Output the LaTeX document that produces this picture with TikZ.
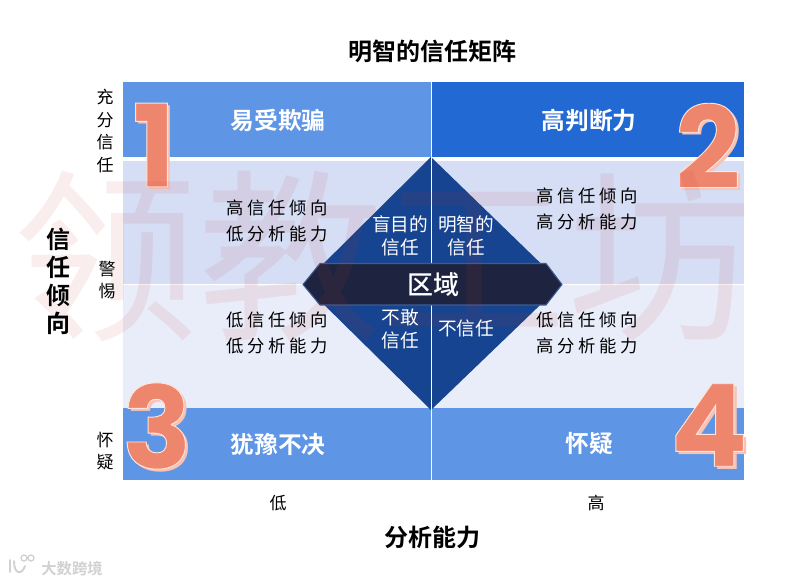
\documentclass[tikz,border=0pt]{standalone}
\usepackage{fontspec}
\setmainfont{Noto Sans CJK SC}
\newfontfamily\cjkb{Noto Sans CJK SC Bold}
\newfontfamily\cjkm{Noto Sans CJK SC Medium}
\newfontfamily\cjksp[LetterSpace=22]{Noto Sans CJK SC}
\newfontfamily\cjkwm{Noto Sans CJK SC}
\newfontfamily\digitfont{Poppins Bold}
\usetikzlibrary{calc}
\definecolor{bandlight}{HTML}{5E95E5}
\definecolor{bandstrong}{HTML}{2369D4}
\definecolor{paleA}{HTML}{D5DEF4}
\definecolor{paleB}{HTML}{E9EDF9}
\definecolor{diam}{HTML}{164490}
\definecolor{darkband}{HTML}{1E2440}
\definecolor{darkedge}{HTML}{3D5C92}
\definecolor{coral}{HTML}{EE866E}
\definecolor{peach}{HTML}{F6C3B6}
\definecolor{wm}{HTML}{C83030}
\newcommand{\outl}[1]{\special{pdf:code q 2 Tr 0.7 w 1 0.9 0.85 RG}#1\special{pdf:code Q}}
\tikzset{
 x=0.75pt,y=-0.75pt,
 band/.style={font=\cjkb\fontsize{17.8pt}{20pt}\selectfont,text=white,inner sep=0pt},
 quad/.style={font=\cjksp\fontsize{13pt}{19pt}\selectfont,align=center,text=black,inner sep=0pt},
 dlab/.style={font=\fontsize{14pt}{17pt}\selectfont,align=center,text=white,inner sep=0pt},
 axis/.style={font=\cjkb\fontsize{18pt}{21pt}\selectfont,text=black,align=center,inner sep=0pt},
 tick/.style={font=\fontsize{12.75pt}{17pt}\selectfont,text=black,align=center,inner sep=0pt},
 bigdig/.style={font=\digitfont\fontsize{86pt}{86pt}\selectfont,inner sep=0pt},
}
\begin{document}
\begin{tikzpicture}
\useasboundingbox (0,0) rectangle (794,584);
\fill[white] (0,0) rectangle (794,584);
% panels
\fill[bandlight] (123,82) rectangle (431,157);
\fill[bandstrong] (431,82) rectangle (744,157);
\fill[paleA] (123,161) rectangle (744,284);
\fill[paleB] (123,285) rectangle (744,408);
\fill[bandlight] (123,408) rectangle (744,480);
% diamond
\fill[diam] (431,157) -- (562,284) -- (431,410) -- (303,284) -- cycle;
\draw[white,line width=0.9pt] (431.5,82) -- (431.5,480);
\fill[darkband,draw=darkedge,line width=0.8pt] (303,284.5) -- (320,263.5) -- (546,263.5) -- (562,284.5) -- (546,305) -- (320,305) -- cycle;
% digits
\foreach \d/\px/\py in {1/154/145,2/708/146,3/157/426,4/709/425}{
 \node[bigdig,text=peach] at (\px+3,\py+3) {\d};
 \node[bigdig,text=coral] at (\px,\py) {\outl{\d}};
}
% watermark
\node[font=\cjkwm\fontsize{138.5pt}{138.5pt}\selectfont,text=wm,opacity=0.085,inner sep=0pt] (wmk) at (383,256) {领教工坊};
% titles
\node[axis] (title) at (432,51) {明智的信任矩阵};
\node[axis] (xaxis) at (432,537) {分析能力};
\node[axis] (yaxis) at (58,281) {信\\任\\倾\\向};
% ticks
\node[tick] (t1) at (105,131) {充\\分\\信\\任};
\node[tick] (t2) at (107,280) {警\\惕};
\node[tick] (t3) at (105,451) {怀\\疑};
\node[tick] (lo) at (278,503) {低};
\node[tick] (hi) at (596,503) {高};
% band labels
\node[band] (b1) at (278,120) {易受欺骗};
\node[band] (b2) at (589,120) {高判断力};
\node[band] (b3) at (278,444) {犹豫不决};
\node[band] (b4) at (589,444) {怀疑};
% quadrant text
\node[quad] (q1) at (277,221) {高信任倾向\\低分析能力};
\node[quad] (q2) at (587,209) {高信任倾向\\高分析能力};
\node[quad] (q3) at (277,333) {低信任倾向\\低分析能力};
\node[quad] (q4) at (587,333) {低信任倾向\\高分析能力};
% diamond text
\node[dlab] (d1) at (400,236) {盲目的\\信任};
\node[dlab] (d2) at (466,236) {明智的\\信任};
\node[dlab] (d3) at (400,329) {不敢\\信任};
\node[dlab] (d4) at (466,328) {不信任};
\node[font=\cjkm\fontsize{19.5pt}{22pt}\selectfont,text=white,inner sep=0pt] (region) at (433,285) {区域};
% logo
\draw[black!18,line width=1.4pt,line cap=round] (10,560) -- (10,572);
\draw[black!18,line width=1.4pt,line cap=round] (14,561) .. controls (14,575) and (22,575) .. (25,566);
\draw[black!18,line width=1pt] (24,558) circle (3) (31,558) circle (3);
\node[font=\cjkb\fontsize{11.5pt}{13pt}\selectfont,text=black!18,inner sep=0pt] (logo) at (72,569) {大数跨境};
\end{tikzpicture}
\end{document}
